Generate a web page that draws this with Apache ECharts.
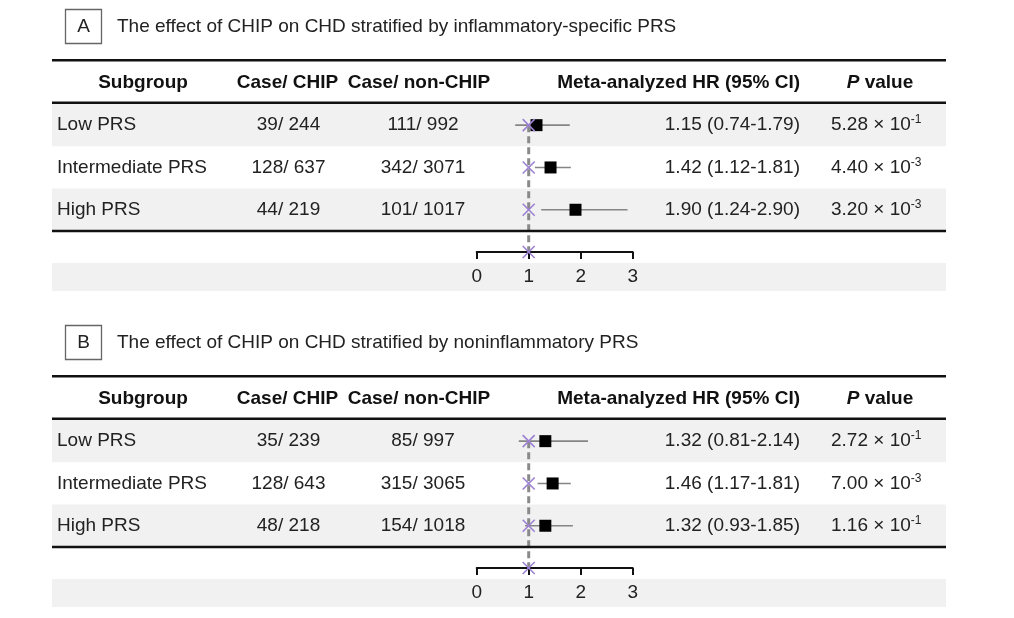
<!DOCTYPE html>
<html>
<head>
<meta charset="utf-8">
<script src="https://cdn.jsdelivr.net/npm/echarts@6/dist/echarts.min.js"></script>
<style>html,body{margin:0;padding:0;background:#fff;}#chart{width:1014px;height:618px;}</style>
</head>
<body>
<div id="chart"></div>
<script>
// ---------- DATA ----------
const panelLetters = ['A', 'B'];
const panelTitles = [
  'The effect of CHIP on CHD stratified by inflammatory-specific PRS',
  'The effect of CHIP on CHD stratified by noninflammatory PRS'
];
const headerLabels = ['Subgroup', 'Case/ CHIP', 'Case/ non-CHIP', 'Meta-analyzed HR (95% CI)', 'P value'];
const subgroups = ['Low PRS', 'Intermediate PRS', 'High PRS'];
const xTicks = [0, 1, 2, 3];
const nullValue = 1;

const caseChipA = ['39/ 244', '128/ 637', '44/ 219'];
const caseNonChipA = ['111/ 992', '342/ 3071', '101/ 1017'];
const hrA = [1.15, 1.42, 1.90];
const loA = [0.74, 1.12, 1.24];
const hiA = [1.79, 1.81, 2.90];
const pMantA = ['5.28', '4.40', '3.20'];
const pExpA = ['-1', '-3', '-3'];

const caseChipB = ['35/ 239', '128/ 643', '48/ 218'];
const caseNonChipB = ['85/ 997', '315/ 3065', '154/ 1018'];
const hrB = [1.32, 1.46, 1.32];
const loB = [0.81, 1.17, 0.93];
const hiB = [2.14, 1.81, 1.85];
const pMantB = ['2.72', '7.00', '1.16'];
const pExpB = ['-1', '-3', '-1'];

// ---------- LAYOUT ----------
const FONT = '"Liberation Sans", Arial, Helvetica, sans-serif';
const FS = 19;
const TXT = '#222';
const GRAY_BG = '#f1f1f1';
const TL = 52, TR = 946;
const ROW_H = 42.3;
const panelOff = [0, 316];
const colSub = 57, colChip = 288.5, colNon = 423, colHR = 800, colP = 831;
const hdrX = [143, 287.5, 419, 800, 880];
const hdrAlign = ['center', 'center', 'center', 'right', 'center'];

const panels = [
  {chip: caseChipA, non: caseNonChipA, hr: hrA, lo: loA, hi: hiA, pm: pMantA, pe: pExpA},
  {chip: caseChipB, non: caseNonChipB, hr: hrB, lo: loB, hi: hiB, pm: pMantB, pe: pExpB}
];

const grids = [], xAxes = [], yAxes = [], series = [], graphics = [];

panels.forEach((P, p) => {
  const off = panelOff[p];
  const gridTop = 104 + off;
  grids.push({left: 476.7, width: 156, top: gridTop, height: ROW_H * 3.5});
  xAxes.push({
    gridIndex: p, type: 'value', min: xTicks[0], max: xTicks[xTicks.length - 1], interval: 1,
    position: 'bottom', z: 6,
    axisLine: {onZero: false, lineStyle: {color: '#111', width: 2}},
    axisTick: {length: 7, lineStyle: {color: '#111', width: 2}},
    axisLabel: {fontSize: FS, color: TXT, fontFamily: FONT, margin: 15},
    splitLine: {show: false}
  });
  yAxes.push({
    gridIndex: p, type: 'value', min: -0.5, max: 3, inverse: true, show: false,
    splitLine: {show: false}
  });

  // table rows (backgrounds + text cells)
  series.push({
    type: 'custom', xAxisIndex: p, yAxisIndex: p, z: 1, silent: true,
    data: subgroups.map((s, i) => [nullValue, i]),
    encode: {x: 0, y: 1},
    renderItem: function (params, api) {
      const i = params.dataIndex;
      const y = api.coord([nullValue, api.value(1)])[1];
      const children = [];
      if (i % 2 === 0) {
        children.push({type: 'rect', shape: {x: TL, y: y - ROW_H / 2, width: TR - TL, height: ROW_H},
          style: {fill: GRAY_BG}, z2: 0});
      }
      const t = (x, text, align) => ({type: 'text', z2: 5,
        style: {x: x, y: y, text: text, align: align, verticalAlign: 'middle',
          font: FS + 'px ' + FONT, fill: TXT}});
      children.push(t(colSub, subgroups[i], 'left'));
      children.push(t(colChip, P.chip[i], 'center'));
      children.push(t(colNon, P.non[i], 'center'));
      children.push(t(colHR, P.hr[i].toFixed(2) + ' (' + P.lo[i].toFixed(2) + '-' + P.hi[i].toFixed(2) + ')', 'right'));
      children.push({type: 'text', z2: 5, style: {
        x: colP, y: y, align: 'left', verticalAlign: 'middle',
        text: '{b|' + P.pm[i] + ' × 10}{s|' + P.pe[i] + '}',
        rich: {
          b: {fontSize: FS, fontFamily: FONT, fill: TXT, color: TXT, lineHeight: 22},
          s: {fontSize: 12, fontFamily: FONT, fill: TXT, color: TXT, lineHeight: 22, verticalAlign: 'top'}
        }
      }});
      return {type: 'group', children: children};
    }
  });

  // dashed reference line at null value
  series.push({
    type: 'line', xAxisIndex: p, yAxisIndex: p, z: 2, silent: true,
    data: [[nullValue, 0], [nullValue, 3]], symbol: 'none',
    lineStyle: {color: '#8a8a8a', width: 3, type: [7, 4]}
  });

  // whiskers + squares
  series.push({
    type: 'custom', xAxisIndex: p, yAxisIndex: p, z: 3, silent: true,
    data: P.hr.map((h, i) => [h, i, P.lo[i], P.hi[i]]),
    encode: {x: 0, y: 1},
    renderItem: function (params, api) {
      const i = api.value(1);
      const c = api.coord([api.value(0), i]);
      const l = api.coord([api.value(2), i]);
      const h = api.coord([api.value(3), i]);
      const s = 12;
      return {type: 'group', children: [
        {type: 'line', shape: {x1: l[0], y1: l[1], x2: h[0], y2: h[1]}, style: {stroke: '#858585', lineWidth: 1.6}},
        {type: 'rect', shape: {x: c[0] - s / 2, y: c[1] - s / 2, width: s, height: s}, style: {fill: '#000'}}
      ]};
    }
  });

  // purple X markers at null value (each row + axis row)
  series.push({
    type: 'custom', xAxisIndex: p, yAxisIndex: p, z: 7, silent: true,
    data: [0, 1, 2, 3].map(r => [nullValue, r]),
    encode: {x: 0, y: 1},
    renderItem: function (params, api) {
      const c = api.coord([api.value(0), api.value(1)]);
      const d = 6;
      const st = {stroke: '#9c80d2', lineWidth: 1.6};
      return {type: 'group', children: [
        {type: 'line', shape: {x1: c[0] - d, y1: c[1] - d, x2: c[0] + d, y2: c[1] + d}, style: st},
        {type: 'line', shape: {x1: c[0] - d, y1: c[1] + d, x2: c[0] + d, y2: c[1] - d}, style: st}
      ]};
    }
  });

  // graphics: letter box, title, rules, headers, tick band
  graphics.push({type: 'rect', z: 1, shape: {x: 65.5, y: 9.5 + off, width: 36, height: 34},
    style: {fill: '#fff', stroke: '#666', lineWidth: 1.3}});
  graphics.push({type: 'text', z: 2, x: 83.5, y: 26.5 + off,
    style: {text: panelLetters[p], font: FS + 'px ' + FONT, fill: TXT, align: 'center', verticalAlign: 'middle'}});
  graphics.push({type: 'text', z: 2, x: 117, y: 26.5 + off,
    style: {text: panelTitles[p], font: FS + 'px ' + FONT, fill: TXT, align: 'left', verticalAlign: 'middle'}});
  [60.3, 102.7, 230.9].forEach(yy => {
    graphics.push({type: 'line', z: 5, shape: {x1: TL, y1: yy + off, x2: TR, y2: yy + off},
      style: {stroke: '#111', lineWidth: 2.5}});
  });
  headerLabels.forEach((h, k) => {
    const style = {x: 0, y: 0, align: hdrAlign[k], verticalAlign: 'middle'};
    if (h === 'P value') {
      style.text = '{i|P}{b| value}';
      style.rich = {
        i: {fontSize: FS, fontFamily: FONT, fontWeight: 'bold', fontStyle: 'italic', fill: '#111'},
        b: {fontSize: FS, fontFamily: FONT, fontWeight: 'bold', fill: '#111'}
      };
    } else {
      style.text = h;
      style.font = 'bold ' + FS + 'px ' + FONT;
      style.fill = '#111';
    }
    graphics.push({type: 'text', z: 2, x: hdrX[k], y: 82.5 + off, style: style});
  });
  graphics.push({type: 'rect', z: -1, shape: {x: TL, y: 263 + off, width: TR - TL, height: 28},
    style: {fill: GRAY_BG}});
});

const chart = echarts.init(document.getElementById('chart'), null, {renderer: 'canvas'});
chart.setOption({
  backgroundColor: '#fff',
  animation: false,
  grid: grids,
  xAxis: xAxes,
  yAxis: yAxes,
  series: series,
  graphic: graphics
});
</script>
</body>
</html>
